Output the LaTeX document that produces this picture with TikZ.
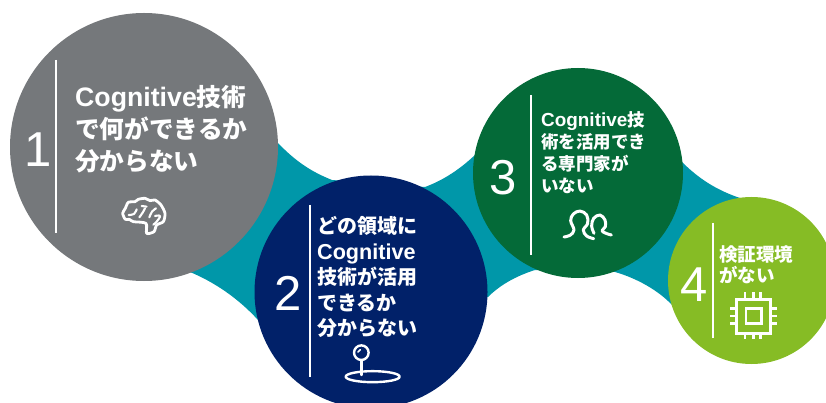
\documentclass[tikz,border=0pt]{standalone}
\usepackage{fontspec}
\setmainfont{Liberation Sans}
\newfontfamily\cjkf[Scale=0.925]{Noto Sans CJK JP}
\newcommand{\J}[1]{{\cjkf\bfseries #1}}
\definecolor{cgray}{HTML}{75787B}
\definecolor{cteal}{HTML}{0097A9}
\definecolor{cnavy}{HTML}{012169}
\definecolor{cgreen}{HTML}{046A38}
\definecolor{clime}{HTML}{86BC25}
\tikzset{
  disc/.style={circle,inner sep=0pt,outer sep=0pt},
  num/.style={text=white,font=\fontsize{49}{49}\selectfont,inner sep=0pt},
  rule/.style={draw=white,line width=1.7pt},
  label/.style={text=white,anchor=north west,align=left,inner sep=0pt,font=\bfseries},
  icon/.style={draw=white,line width=2.4pt,line cap=round,line join=round,fill=none},
}
\begin{document}
\begin{tikzpicture}[x=1pt,y=-1pt]
\useasboundingbox (0,0) rectangle (826,403);
\clip (0,0) rectangle (826,403);
% teal band
\fill[cteal] (277,142) .. controls (296,162) and (312,172) .. (332,180)
  -- (425,187) .. controls (444,180) and (462,168) .. (478,152)
  -- (682,162) .. controls (698,178) and (716,190) .. (740,198)
  -- (672,305) .. controls (658,290) and (636,278) .. (615,272)
  -- (535,270) .. controls (516,276) and (500,285) .. (488,297)
  -- (258,320) .. controls (238,298) and (214,282) .. (190,272) -- cycle;
% circles
\node[disc,fill=cgray,minimum size=268pt] (c1) at (144,147) {};
\node[disc,fill=cnavy,minimum size=233pt] (c2) at (371,292) {};
\node[disc,fill=cgreen,minimum size=210pt] (c3) at (578,173) {};
\node[disc,fill=clime,minimum size=167pt] (c4) at (751.5,280.5) {};
% rules
\draw[rule] (56,60) -- (56,233);
\draw[rule] (310,205) -- (310,377);
\draw[rule] (531,95) -- (531,255);
\draw[rule] (713,223) -- (713,338);
% numbers
\node[num] (n1) at (38,150) {1};
\node[num] (n2) at (288,293) {2};
\node[num] (n3) at (503,178) {3};
\node[num] (n4) at (694,285) {4};
% labels
\node[label,font=\bfseries\fontsize{26.7}{32}\selectfont] (t1) at (75,85) {Cognitive\J{技術}\\\J{で何ができるか}\\\J{分からない}};
\node[label,font=\bfseries\fontsize{21.6}{25.5}\selectfont] (t2) at (317,216.5) {\J{どの領域に}\\Cognitive\\\J{技術が活用}\\\J{できるか}\\\J{分からない}};
\node[label,font=\bfseries\fontsize{18.9}{22}\selectfont] (t3) at (541,111) {Cognitive\J{技}\\\J{術を活用でき}\\\J{る専門家が}\\\J{いない}};
\node[label,font=\bfseries\fontsize{20}{21}\selectfont] (t4) at (719,245) {\J{検証環境}\\\J{がない}};
% brain icon
\begin{scope}[shift={(90,180)},x=0.3333pt,y=-0.3333pt]
\draw[icon,line width=2.8pt] plot[smooth cycle,tension=0.45] coordinates {(170,160)(168,130)(130,125)(118,118)(106,118)(98,100)(106,85)(115,67)(135,65)(145,58)(165,55)(180,62)(195,60)(213,75)(225,100)(220,125)(200,135)(192,155)};
\draw[icon,line width=2.1pt] plot[smooth,tension=0.7] coordinates {(116,105)(132,102)(140,88)};
\draw[icon,line width=2.1pt] plot[smooth,tension=0.7] coordinates {(148,112)(158,98)(165,85)};
\draw[icon,line width=2.1pt] plot[smooth,tension=0.7] coordinates {(155,78)(170,80)};
\draw[icon,line width=2.1pt] plot[smooth,tension=0.7] coordinates {(178,112)(186,95)(198,85)};
\draw[icon,line width=2.1pt] plot[smooth,tension=0.7] coordinates {(195,108)(210,108)(200,125)(190,134)};
\end{scope}
% pin icon
\begin{scope}[shift={(330,330)},x=0.3333pt,y=-0.3333pt]
\draw[icon] (94,68) circle[radius=7.3pt];
\draw[icon,line width=1.6pt] (84,66) .. controls (85,62) and (88,60) .. (91,59);
\draw[icon] (94,92) -- (94,135);
\draw[icon] (128,140) ellipse[x radius=27pt,y radius=5.5pt];
\end{scope}
% people icon
\begin{scope}[shift={(550,200)},x=0.3333pt,y=-0.3333pt]
\draw[icon,line width=3pt] plot[smooth,tension=0.6] coordinates {(42,111)(60,106)(72,90)(62,62)(70,42)(90,33)(110,45)(113,70)(100,90)(110,108)(131,116)};
\draw[icon,line width=3pt] plot[smooth,tension=0.6] coordinates {(132,100)(125,78)(131,55)(150,45)(165,60)(166,80)(156,92)(168,100)(184,105)};
\end{scope}
% chip icon
\begin{scope}[shift={(720,290)},x=0.3333pt,y=-0.3333pt]
\draw[icon,line cap=butt,line join=miter,line width=3pt] (48,28) rectangle (152,130);
\draw[icon,line cap=butt,line join=miter,line width=2.8pt] (78,55) rectangle (125,100);
\foreach \a in {75,100,122}{
  \draw[icon,line width=2.5pt,line cap=butt] (\a,7) -- (\a,28);
  \draw[icon,line width=2.5pt,line cap=butt] (\a,130) -- (\a,147);
}
\foreach \a in {55,78,100}{
  \draw[icon,line width=2.5pt,line cap=butt] (30,\a) -- (48,\a);
  \draw[icon,line width=2.5pt,line cap=butt] (152,\a) -- (172,\a);
}
\end{scope}
\end{tikzpicture}
\end{document}
